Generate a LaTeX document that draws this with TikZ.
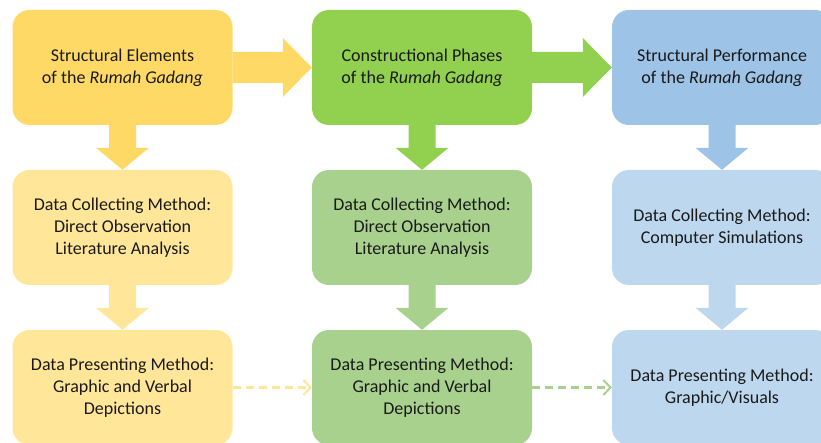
\documentclass[tikz,border=0pt]{standalone}
\usepackage{fontspec}
\setmainfont{Carlito}
\usetikzlibrary{calc,arrows.meta}
\definecolor{yTop}{HTML}{FFD966}
\definecolor{yLow}{HTML}{FFE699}
\definecolor{gTop}{HTML}{92D050}
\definecolor{gLow}{HTML}{A9D18E}
\definecolor{bTop}{HTML}{9DC3E6}
\definecolor{bLow}{HTML}{BDD7EE}
\definecolor{txt}{HTML}{1A1A1A}
\tikzset{
  box/.style={rectangle, rounded corners=17pt, minimum width=220pt, minimum height=115pt,
    inner sep=0pt, align=center, text=txt, font=\fontsize{18}{22}\selectfont},
  dasharrow/.style={line width=2.4pt, dash pattern=on 8pt off 5pt,
    -{Straight Barb[length=7pt,width=15pt,line width=2pt]}}
}
\newcommand{\rightblock}[3]{% color, from, to
  \fill[#1] ($(#2.east)+(0,-15.5)$) -- ($(#3.west)+(-29,-15.5)$) -- ($(#3.west)+(-29,-29.5)$)
    -- (#3.west) -- ($(#3.west)+(-29,29.5)$) -- ($(#3.west)+(-29,15.5)$) -- ($(#2.east)+(0,15.5)$) -- cycle;}
\newcommand{\downblock}[3]{% color, from, to
  \fill[#1] ($(#2.south)+(-13.5,0)$) -- ($(#3.north)+(-13.5,-22)$) -- ($(#3.north)+(-26.5,-22)$)
    -- (#3.north) -- ($(#3.north)+(26.5,-22)$) -- ($(#3.north)+(13.5,-22)$) -- ($(#2.south)+(13.5,0)$) -- cycle;}
\begin{document}
\begin{tikzpicture}[x=1pt,y=-1pt]
\useasboundingbox (0,0) rectangle (821,443);
\begin{scope}
\clip (0,0) rectangle (821,443);
% column 1
\node[box, fill=yTop] (y1) at (122.5,67.5) {Structural Elements\\of the \textit{Rumah Gadang}};
\node[box, fill=yLow] (y2) at (122.5,227.5) {Data Collecting Method:\\Direct Observation\\Literature Analysis};
\node[box, fill=yLow] (y3) at (122.5,387.5) {Data Presenting Method:\\Graphic and Verbal\\Depictions};
% column 2
\node[box, fill=gTop] (g1) at (422,67.5) {Constructional Phases\\of the \textit{Rumah Gadang}};
\node[box, fill=gLow] (g2) at (422,227.5) {Data Collecting Method:\\Direct Observation\\Literature Analysis};
\node[box, fill=gLow] (g3) at (422,387.5) {Data Presenting Method:\\Graphic and Verbal\\Depictions};
% column 3
\node[box, fill=bTop] (b1) at (722,67.5) {Structural Performance\\of the \textit{Rumah Gadang}};
\node[box, fill=bLow] (b2) at (722,227.5) {Data Collecting Method:\\Computer Simulations};
\node[box, fill=bLow] (b3) at (722,387.5) {Data Presenting Method:\\Graphic/Visuals};
% block arrows
\rightblock{yTop}{y1}{g1}
\rightblock{gTop}{g1}{b1}
\downblock{yTop}{y1}{y2}
\downblock{yLow}{y2}{y3}
\downblock{gTop}{g1}{g2}
\downblock{gLow}{g2}{g3}
\downblock{bTop}{b1}{b2}
\downblock{bLow}{b2}{b3}
% dashed arrows
\draw[dasharrow, yLow] (y3.east) -- (g3.west);
\draw[dasharrow, gLow] (g3.east) -- (b3.west);
\end{scope}
\end{tikzpicture}
\end{document}
